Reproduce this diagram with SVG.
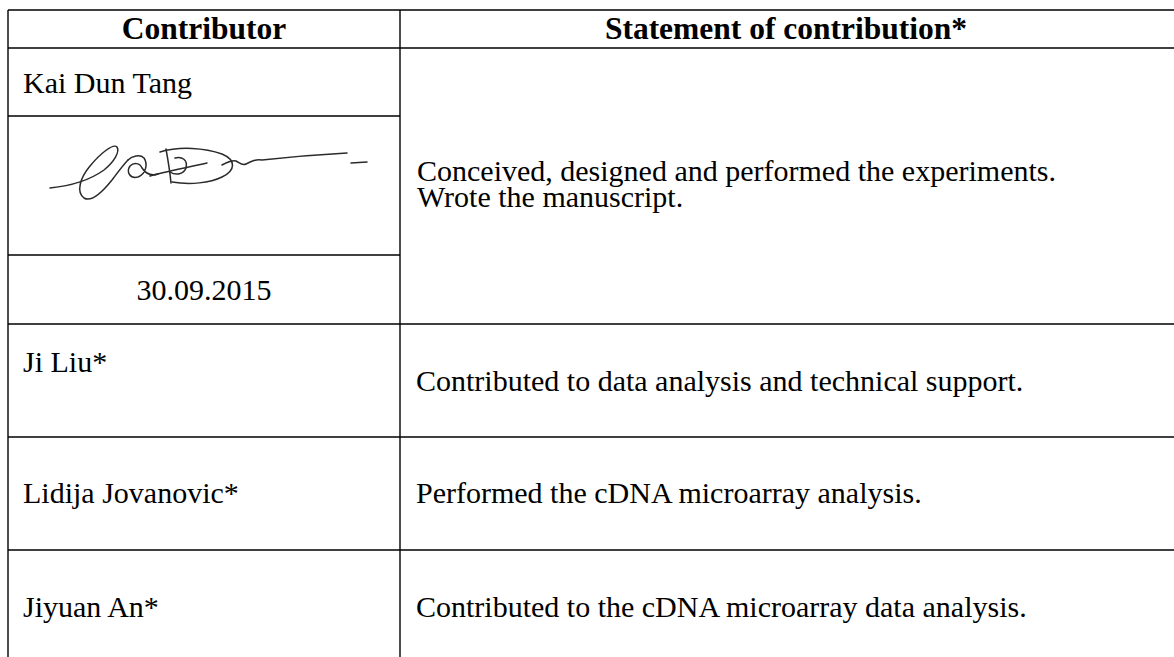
<svg xmlns="http://www.w3.org/2000/svg" width="1174" height="657" viewBox="0 0 1174 657">
<style>
.t{font-family:"Liberation Serif","Times New Roman",serif;font-size:30px;fill:#000}
.b{font-weight:bold;font-size:31.5px}
.ln{stroke:#000;stroke-width:1.4;fill:none}
.sig{stroke:#2a2a2a;stroke-width:1.5;fill:none;stroke-linecap:round;stroke-linejoin:round}
</style>
<rect width="1174" height="657" fill="#fff"/>
<g id="grid">
<line class="ln" x1="8" y1="10" x2="1174" y2="10"/>
<line class="ln" x1="8" y1="48" x2="1174" y2="48"/>
<line class="ln" x1="8" y1="116" x2="400" y2="116"/>
<line class="ln" x1="8" y1="255" x2="400" y2="255"/>
<line class="ln" x1="8" y1="324" x2="1174" y2="324"/>
<line class="ln" x1="8" y1="437" x2="1174" y2="437"/>
<line class="ln" x1="8" y1="550" x2="1174" y2="550"/>
<line class="ln" x1="8" y1="10" x2="8" y2="657"/>
<line class="ln" x1="400" y1="10" x2="400" y2="657"/>
</g>
<g id="header">
<text class="t b" x="204" y="39" text-anchor="middle">Contributor</text>
<text class="t b" x="786" y="39" text-anchor="middle">Statement of contribution*</text>
</g>
<g id="row-tang">
<text class="t" x="23" y="93">Kai Dun Tang</text>
<g id="signature">
<path class="sig" d="M50,188 C70,186 90,180 104,170 C114,162 120,152 117,147 C113,143 100,154 90,166 C80,178 76,192 84,198 C92,203 104,190 112,180 C118,172 124,164 128,160"/>
<path class="sig" d="M128,160 C132,156 140,154 144,158 C148,164 146,174 138,177 C130,179 126,172 130,166 C134,162 140,163 142,168 C146,174 152,176 158,174"/>
<path class="sig" d="M150,176 C165,172 185,168 207,163"/>
<path class="sig" d="M166,149 C168,160 170,172 171,183"/>
<path class="sig" d="M160,152 C180,146 205,148 222,154 C236,160 236,170 222,177 C210,183 190,185 172,182"/>
<path class="sig" d="M175,158 C182,156 188,160 186,168 C184,174 176,176 170,172"/>
<path class="sig" d="M222,165 C228,162 232,160 236,161 C240,163 242,166 246,164 C252,161 256,159 262,160 C280,158 310,155 347,153"/>
<path class="sig" d="M351,163 L367,162"/>
</g>
<text class="t" x="204" y="300" text-anchor="middle">30.09.2015</text>
<text class="t" x="417" y="181"><tspan x="417" y="181">Conceived, designed and performed the experiments.</tspan><tspan x="417" y="207">Wrote the manuscript.</tspan></text>
</g>
<g id="row-liu">
<text class="t" x="23" y="372">Ji Liu*</text>
<text class="t" x="416" y="391">Contributed to data analysis and technical support.</text>
</g>
<g id="row-jovanovic">
<text class="t" x="23" y="503">Lidija Jovanovic*</text>
<text class="t" x="416" y="503">Performed the cDNA microarray analysis.</text>
</g>
<g id="row-an">
<text class="t" x="23" y="617">Jiyuan An*</text>
<text class="t" x="416" y="617">Contributed to the cDNA microarray data analysis.</text>
</g>
</svg>
